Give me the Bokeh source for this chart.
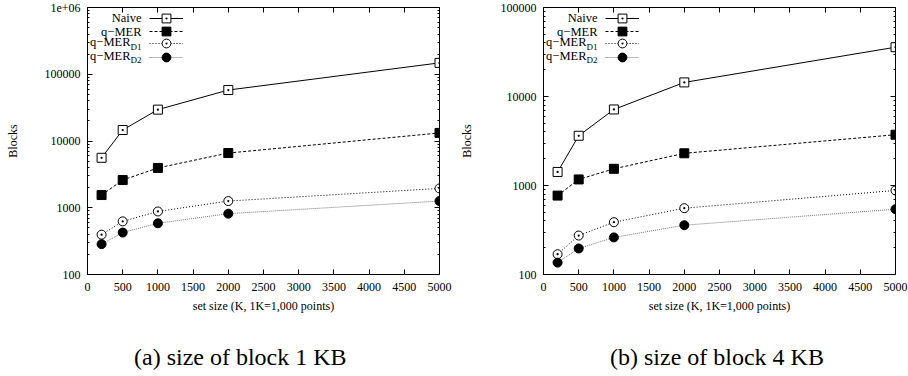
from bokeh.plotting import figure
from bokeh.models import (Range1d, LogAxis, LinearAxis, FixedTicker, Legend,
                          LegendItem, Label, Div)
from bokeh.layouts import row, column
from bokeh.embed import file_html
from bokeh.resources import INLINE

# ---------------- data ----------------
set_size = [200, 500, 1000, 2000, 5000]

naive_1kb = [5600, 14600, 29500, 58000, 148000]
qmer_1kb = [1550, 2600, 3950, 6600, 13200]
qmer_d1_1kb = [395, 625, 880, 1260, 1950]
qmer_d2_1kb = [285, 425, 585, 815, 1260]

naive_4kb = [1420, 3620, 7150, 14400, 35800]
qmer_4kb = [770, 1170, 1540, 2300, 3720]
qmer_d1_4kb = [169, 274, 387, 556, 880]
qmer_d2_4kb = [136, 196, 261, 358, 542]

x_ticks = [0, 500, 1000, 1500, 2000, 2500, 3000, 3500, 4000, 4500, 5000]
y_ticks_a = [100, 1000, 10000, 100000, 1000000]
y_labels_a = ["100", "1000", "10000", "100000", "1e+06"]
y_ticks_b = [100, 1000, 10000, 100000]
y_labels_b = ["100", "1000", "10000", "100000"]

series_names = ["Naive", "q\u2212MER", "q\u2212MER", "q\u2212MER"]
series_subs = ["", "", "D1", "D2"]
x_label = "set size (K, 1K=1,000 points)"
y_label = "Blocks"
captions = ["(a) size of block 1 KB", "(b) size of block 4 KB"]

# ---------------- styles ----------------
FONT = "Liberation Serif"
STYLES = [
    dict(dash="solid", lcolor="black", marker="square_dot", fill="white", size=9),
    dict(dash="3 2", lcolor="black", marker="square", fill="black", size=9),
    dict(dash="1 2", lcolor="black", marker="circle_dot", fill="white", size=9),
    dict(dash="1 1", lcolor="#777777", marker="circle", fill="black", size=9),
]

W, H = 454, 330
CAP_H = 46
TOP = 7
FRAME_H = 267
LEG_ROWS = [10.5, 24.0, 36.0, 49.5]   # legend row centres, px below frame top
LEG_GLYPH_H = 22


def minor_log(lo, hi):
    out = []
    k = lo
    while 10 ** k < hi:
        for m in range(2, 10):
            out.append(m * 10 ** k)
        k += 1
    return out


def style_axis(ax, labels=True):
    ax.axis_line_color = "black"
    ax.axis_line_width = 1
    ax.major_tick_in = 5
    ax.major_tick_out = 0
    ax.minor_tick_in = 2
    ax.minor_tick_out = 0
    ax.major_tick_line_color = "black"
    ax.minor_tick_line_color = "black"
    ax.major_label_text_font = FONT
    if labels:
        ax.major_label_text_font_size = "12px"
        ax.major_label_text_color = "black"
    else:
        ax.major_label_text_font_size = "1px"
        ax.major_label_text_color = None
        ax.major_label_standoff = 0


def make_panel(series, yticks, ylabels, ymax, bl, br, ylab_standoff):
    p = figure(width=W, height=H, x_range=Range1d(0, 5000), y_range=Range1d(100, ymax),
               y_axis_type="log", output_backend="svg", toolbar_location=None,
               min_border_left=bl, min_border_right=br, min_border_top=TOP,
               min_border_bottom=H - TOP - FRAME_H)
    p.outline_line_color = None
    p.xgrid.visible = False
    p.ygrid.visible = False
    p.background_fill_color = "white"
    p.border_fill_color = "white"

    yt = FixedTicker(ticks=yticks, minor_ticks=minor_log(2, ymax))
    xt = FixedTicker(ticks=x_ticks, minor_ticks=[])

    xa = p.xaxis[0]
    style_axis(xa)
    xa.ticker = xt
    xa.minor_tick_line_color = None
    xa.major_label_standoff = 8
    xa.axis_label = x_label
    xa.axis_label_text_font = FONT
    xa.axis_label_text_font_size = "12px"
    xa.axis_label_text_font_style = "normal"
    xa.axis_label_text_color = "black"
    xa.axis_label_standoff = 5

    ya = p.yaxis[0]
    style_axis(ya)
    ya.ticker = yt
    ya.major_label_overrides = {t: l for t, l in zip(yticks, ylabels)}
    ya.major_label_standoff = 7
    ya.axis_label = y_label
    ya.axis_label_text_font = FONT
    ya.axis_label_text_font_size = "12px"
    ya.axis_label_text_font_style = "normal"
    ya.axis_label_text_color = "black"
    ya.axis_label_standoff = ylab_standoff

    ra = LogAxis(ticker=yt)
    style_axis(ra, labels=False)
    p.add_layout(ra, "right")
    ta = LinearAxis(ticker=xt)
    style_axis(ta, labels=False)
    ta.minor_tick_line_color = None
    p.add_layout(ta, "above")

    for vals, st, yc in zip(series, STYLES, LEG_ROWS):
        rl = p.line(set_size, vals, line_color=st["lcolor"], line_width=1, line_dash=st["dash"])
        rs = p.scatter(set_size, vals, marker=st["marker"], size=st["size"],
                       line_color="black", fill_color=st["fill"], line_width=1)
        box_bottom = FRAME_H - yc - LEG_GLYPH_H / 2
        leg = Legend(items=[LegendItem(label=" ", renderers=[rl, rs])],
                     location=(62, box_bottom), glyph_width=34, glyph_height=LEG_GLYPH_H,
                     label_height=13, label_width=1, spacing=0, padding=0, margin=0,
                     label_standoff=0, border_line_alpha=0, background_fill_alpha=0,
                     label_text_font_size="1px", label_text_color=None)
        p.add_layout(leg)

    # legend texts (gnuplot style: text right-aligned left of the sample)
    for name, sub, yc in zip(series_names, series_subs, LEG_ROWS):
        ys = FRAME_H - yc
        if sub:
            p.add_layout(Label(x=43, y=ys + 1.5, x_units="screen", y_units="screen",
                               text=name, text_align="right", text_baseline="middle",
                               text_font=FONT, text_font_size="12.5px", text_color="black"))
            p.add_layout(Label(x=43, y=ys - 3, x_units="screen", y_units="screen",
                               text=sub, text_align="left", text_baseline="middle",
                               text_font=FONT, text_font_size="9px", text_color="black"))
        else:
            p.add_layout(Label(x=54, y=ys, x_units="screen", y_units="screen",
                               text=name, text_align="right", text_baseline="middle",
                               text_font=FONT, text_font_size="12.5px", text_color="black"))
    return p


def make_caption(text, pad_left):
    return Div(text=text, width=W, height=CAP_H,
               styles={"font-family": FONT, "font-size": "24px", "color": "black",
                       "line-height": "28px", "padding-left": f"{pad_left}px",
                       "padding-top": "8px", "box-sizing": "border-box",
                       "white-space": "nowrap"})


p1 = make_panel([naive_1kb, qmer_1kb, qmer_d1_1kb, qmer_d2_1kb], y_ticks_a, y_labels_a,
                1000000, 87, 15, 22)
p2 = make_panel([naive_4kb, qmer_4kb, qmer_d1_4kb, qmer_d2_4kb], y_ticks_b, y_labels_b,
                100000, 89, 13, 24)

layout = column(row(p1, p2), row(make_caption(captions[0], 129), make_caption(captions[1], 141)))
open("out.html", "w").write(file_html(layout, INLINE))
